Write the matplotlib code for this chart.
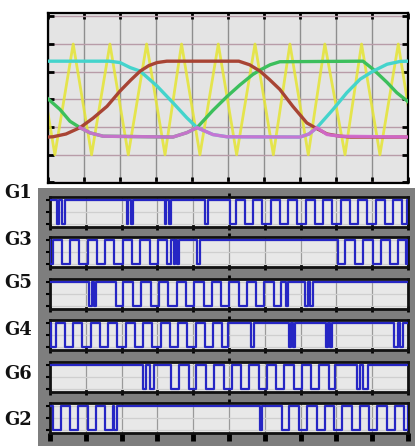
import matplotlib
matplotlib.use("Agg")
import matplotlib.pyplot as plt
from matplotlib.patches import Rectangle

# --- top scope: carrier and three reference waves (x in divisions, y in grid units)
carrier_x = [0, 0.19, 0.70, 1.21, 1.72, 2.23, 2.74, 3.25, 3.71, 4.22, 4.73, 5.24, 5.75,
             6.26, 6.72, 7.23, 7.69, 8.25, 8.71, 9.22, 9.73, 10]
carrier_y = [-0.5, -2, 2, -2, 2, -2, 2, -2, 2, -2, 2, -2, 2, -2, 2, -2, 2, -2, 2, -2, 2, -0.2]

red_x = [0, 0.14, 0.5, 0.89, 1.25, 1.64, 2.0, 2.3, 2.56, 2.8, 3.03, 3.3, 5.3, 5.6, 5.89,
         6.15, 6.44, 6.8, 7.19, 7.42, 7.75, 8.11, 8.4, 10]
red_y = [-1.36, -1.35, -1.25, -1.02, -0.68, -0.25, 0.3, 0.7, 1.02, 1.22, 1.33, 1.38, 1.38,
         1.25, 1.02, 0.72, 0.36, -0.25, -0.85, -1.02, -1.25, -1.33, -1.36, -1.36]

cyan_x = [0, 1.7, 2.0, 2.28, 2.56, 3.03, 3.47, 3.86, 4.14, 4.58, 4.97, 7.0, 7.25, 7.47,
          7.92, 8.3, 8.67, 9.03, 9.42, 9.78, 10]
cyan_y = [1.38, 1.38, 1.33, 1.15, 1.02, 0.48, -0.12, -0.67, -1.02, -1.27, -1.35, -1.36,
          -1.25, -1.02, -0.36, 0.24, 0.73, 1.02, 1.27, 1.37, 1.38]

green_x = [0, 0.33, 0.61, 0.89, 1.17, 1.53, 3.47, 3.86, 4.14, 4.58, 4.97, 5.33, 5.69,
           5.89, 6.17, 6.44, 8.75, 9.03, 9.42, 9.69, 10]
green_y = [0.02, -0.36, -0.79, -1.02, -1.21, -1.33, -1.36, -1.2, -1.02, -0.4, 0.1, 0.52,
           0.9, 1.06, 1.25, 1.36, 1.38, 1.09, 0.61, 0.24, -0.08]

magenta_x = [0.89, 1.17, 1.53, 3.47, 3.86, 4.14, 4.58, 4.97, 7.0, 7.25, 7.47, 7.75, 8.11, 10]
magenta_y = [-1.02, -1.21, -1.33, -1.36, -1.2, -1.02, -1.27, -1.35, -1.36, -1.25, -1.02,
             -1.27, -1.33, -1.36]

# --- gate pulses: low intervals (start, end) in divisions, signal is high elsewhere
g1_dips = [(0.20, 0.26), (0.33, 0.42), (2.14, 2.19), (2.26, 2.31), (3.20, 3.25), (3.32, 3.37),
           (4.33, 4.40), (5.02, 5.20), (5.45, 5.68), (5.93, 6.17), (6.42, 6.66), (6.90, 7.14),
           (7.40, 7.63), (7.88, 8.12), (8.37, 8.60), (8.86, 9.10), (9.35, 9.58), (9.83, 9.97)]
g3_dips = [(0.0, 0.08), (0.33, 0.56), (0.82, 1.05), (1.31, 1.54), (1.80, 2.03), (2.29, 2.52),
           (2.78, 3.01), (3.27, 3.38), (3.45, 3.50), (3.55, 3.60), (4.12, 4.18), (8.05, 8.25),
           (8.52, 8.75), (9.01, 9.24), (9.50, 9.73), (9.95, 10.0)]
g5_dips = [(1.10, 1.16), (1.22, 1.28), (1.84, 2.05), (2.33, 2.55), (2.82, 3.05), (3.31, 3.54),
           (3.80, 4.03), (4.29, 4.52), (4.78, 5.01), (5.27, 5.50), (5.76, 5.99), (6.25, 6.45),
           (6.60, 6.66), (7.13, 7.20), (7.27, 7.34)]
g4_dips = [(0.03, 0.17), (0.42, 0.65), (0.90, 1.14), (1.40, 1.63), (1.88, 2.12), (2.37, 2.60),
           (2.86, 3.10), (3.34, 3.58), (3.83, 4.07), (4.32, 4.55), (4.80, 4.98), (5.62, 5.69),
           (6.68, 6.73), (6.79, 6.84), (7.72, 7.77), (7.82, 7.87), (9.62, 9.71), (9.78, 9.87)]
g6_dips = [(2.60, 2.68), (2.78, 2.90), (3.38, 3.60), (3.87, 4.09), (4.36, 4.58), (4.85, 5.07),
           (5.34, 5.56), (5.83, 6.05), (6.32, 6.54), (6.81, 7.03), (7.30, 7.52), (7.79, 7.96),
           (8.57, 8.65), (8.75, 8.88)]
g2_dips = [(0.08, 0.30), (0.57, 0.79), (1.06, 1.28), (1.55, 1.75), (1.80, 1.86), (5.87, 5.92),
           (6.47, 6.68), (6.96, 7.18), (7.45, 7.67), (7.94, 8.16), (8.43, 8.65), (8.92, 9.14),
           (9.41, 9.63), (9.90, 10.0)]

gate_labels = ["G1", "G3", "G5", "G4", "G6", "G2"]
gate_dips = [g1_dips, g3_dips, g5_dips, g4_dips, g6_dips, g2_dips]

W, H = 415, 446


def px_axes(fig, left, top, right, bottom):
    return fig.add_axes([left / W, 1 - bottom / H, (right - left) / W, (bottom - top) / H])


def dips_to_steps(dips):
    xs, ys = [0.0], [1]
    for start, end in dips:
        xs += [start, end]
        ys += [0, 1]
    xs.append(10.0)
    ys.append(ys[-1])
    return xs, ys


fig = plt.figure(figsize=(W / 100, H / 100), dpi=100)
fig.patch.set_facecolor("white")
fig.add_artist(Rectangle((38 / W, 0), 1 - 38 / W, (H - 188) / H, transform=fig.transFigure,
                         facecolor="#7e7e7e", edgecolor="none", zorder=-10))

# top scope
ax = px_axes(fig, 48, 13, 408, 183)
ax.set_facecolor("#e4e4e4")
ax.plot(carrier_x, carrier_y, color="#e4e43c", lw=2.0, alpha=0.9, zorder=2)
ax.plot(green_x, green_y, color="#3cbf5c", lw=2.4, zorder=3)
ax.plot(cyan_x, cyan_y, color="#44d4cc", lw=2.4, zorder=3)
ax.plot(red_x, red_y, color="#a84434", lw=2.4, zorder=4)
ax.plot(magenta_x, magenta_y, color="#d46cd6", lw=2.4, alpha=0.9, zorder=5)
ax.set_xlim(0, 10)
ax.set_ylim(-3.02, 3.12)
ax.set_xticks(range(11))
ax.set_yticks(range(-3, 4))
ax.xaxis.grid(True, color="#8e8e8e", lw=1.0)
ax.yaxis.grid(True, color="#b89ca8", lw=1.0)
ax.set_axisbelow(True)
ax.tick_params(direction="in", length=4, width=2, top=True, right=True,
               labelbottom=False, labelleft=False)
for side in ax.spines.values():
    side.set_linewidth(1.6)
    side.set_color("black")

# gate pulse panels
tops = [197, 237, 279, 320, 362, 403]
label_y = [193, 240, 283, 330, 374, 420]
for i, (name, dips) in enumerate(zip(gate_labels, gate_dips)):
    gx = px_axes(fig, 50, tops[i], 408, tops[i] + 30)
    gx.set_facecolor("#e8e8e8")
    xs, ys = dips_to_steps(dips)
    gx.plot(xs, ys, drawstyle="steps-post", color="#2626c4", lw=1.6, zorder=3)
    gx.set_xlim(0, 10)
    gx.set_ylim(-0.14, 1.14)
    gx.set_xticks(range(11))
    gx.set_yticks([0, 0.5, 1])
    gx.xaxis.grid(True, color="#9a9a9a", lw=0.9)
    gx.yaxis.grid(True, color="#cfcfcf", lw=0.9)
    gx.set_axisbelow(True)
    if i == len(gate_labels) - 1:
        gx.tick_params(axis="x", direction="out", length=6, width=3.5, color="black")
    else:
        gx.tick_params(axis="x", direction="inout", length=4, width=2, color="black")
    gx.tick_params(axis="y", direction="out", length=3, width=1.5)
    gx.tick_params(labelbottom=False, labelleft=False)
    sec = gx.secondary_xaxis("top")
    sec.set_xticks([5])
    sec.tick_params(direction="out", length=3, width=2, labeltop=False)
    sec.spines["top"].set_visible(False)
    for side in gx.spines.values():
        side.set_linewidth(2.0)
        side.set_color("#111111")
    fig.text(4 / W, 1 - label_y[i] / H, name, fontsize=13, fontweight="bold",
             family="DejaVu Serif", va="center", ha="left", color="#111111")

fig.savefig("out.png", dpi=100, facecolor=fig.get_facecolor())
